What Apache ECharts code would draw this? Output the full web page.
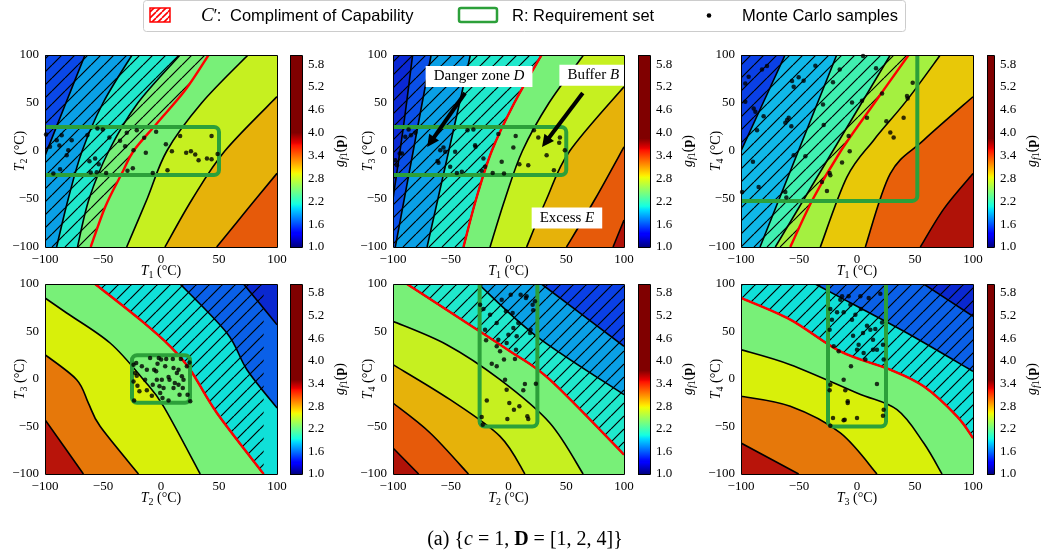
<!DOCTYPE html>
<html>
<head>
<meta charset="utf-8">
<script src="https://cdn.jsdelivr.net/npm/echarts@6/dist/echarts.min.js"></script>
<style>
  html, body { margin: 0; background: #fff; }
  #chart { width: 1042px; height: 556px; }
</style>
</head>
<body>
<div id="chart"></div>
<script>
const SERIF = 'Liberation Serif'
const SANS = 'Liberation Sans'
const GREEN = '#2ca03a'

// shared axes
const axisTicks = [-100, -50, 0, 50, 100]
const cbTicks = [1.0, 1.6, 2.2, 2.8, 3.4, 4.0, 4.6, 5.2, 5.8]
const cbRange = [1.0, 6.04]
const xVar = [1, 1, 1, 2, 2, 3]
const yVar = [2, 3, 4, 3, 4, 4]
const cbTop = [4.0, 3.85, 3.85, 3.5, 3.75, 3.5]

// panel 1 : T1 vs T2 (contours ordered low -> high, each drawn bottom -> top)
const p1Capability = [[-60.6, -100], [-48, -58], [-33.8, -23.5], [-23.7, 0], [-3.6, 28.7], [20.9, 63.5], [41, 100]]
const p1Contours = [
  [[-100, -5], [-82, 50], [-65.5, 100]],
  [[-90, -100], [-80, -50], [-68, 0], [-50, 50], [-25, 100]],
  [[-72, -100], [-62, -50], [-45, 0], [-20, 50], [16.5, 100]],
  [[-29.6, -100], [-12, -50], [5, 0], [35, 50], [75, 100]],
  [[3.4, -100], [27, -50], [55, 0], [100, 56.6]],
  [[48, -100], [75, -60], [100, -23.3]]
]
const p1Samples = [[-99.1, 17.2], [-95.7, 4.3], [-92.8, -23.5], [-89.9, 11.3], [-87.6, 5.7], [-85.6, 16.5], [-81.3, -4.3],
  [-79.9, 0.9], [-77, 11.3], [-87, -19], [-63.5, 16.5], [-61.7, -10.6], [-60.6, -22.4], [-56.8, -7.8], [-54.8, 23.5],
  [-53.7, -13.7], [-55.4, -22.1], [-50.2, 22.4], [-47.3, -22.8], [-44.5, 14.1], [-35.3, 10.6], [-30.9, 5], [-29.5, 19],
  [-28.9, -20.7], [-24.3, -17.9], [-23.7, 0.9], [-20.9, 21.7], [-14.5, 13.7], [-13.1, -1.9], [-7.1, -22.8], [-4.2, 20],
  [4.2, 7.1], [5.6, -20], [9.4, -0.2], [16.5, 15.5], [21.7, -1.9], [25.8, -0.2], [29.5, -3.7], [32.4, -9.6], [39.6, -7.8],
  [43.6, -8.5], [43.6, 15.5], [48.8, -3]]
const p1Req = [-130, 50, -25, 25]

// panel 2 : T1 vs T3
const p2Capability = [[-39, -100], [-28, -50], [-14.5, 0], [5, 50], [28.6, 100]]
const p2Contours = [
  [[-100, -50], [-91, 25], [-83, 100]],
  [[-98, -100], [-67, 100]],
  [[-70.5, -100], [-33, 100]],
  p2Capability,
  [[-16, -100], [-3, -50], [12, 0], [35, 50], [65, 100]],
  [[15.7, -100], [33, -50], [53, 0], [100, 67]],
  [[50.2, -100], [75, -50], [100, 4.3]],
  [[90.5, -100], [100, -72]]
]
const p2Samples = [[-98, -9.6], [-96.5, -14.8], [-94.2, -2.6], [-92.2, -2.6], [-89.4, 14.8], [-86.5, 22.4], [-84.5, 16.5],
  [-80.7, 19], [-66.3, 11.3], [-61.4, -10.3], [-60.6, -12.3], [-59.1, 0.9], [-56.3, 3.7], [-54.8, -0.9], [-50.5, -16.5],
  [-46.2, -0.9], [-44.7, -22.8], [-40.4, -21.7], [-35.5, 21.7], [-30.4, 22.4], [-28.9, 6.1], [-28.6, 4.3], [-23.2, -20.7],
  [-21.7, -7.8], [-20.3, -16.5], [-13.7, -22.8], [-8.8, 17.6], [-5.9, -11.3], [-3.9, -23.5], [4.2, 3.7], [6.2, 15.5],
  [9.4, -13.7], [17.1, -14.8], [22, 21.7], [25.8, 14.1], [33, -4.3], [39.3, -20], [43.9, 8.5], [48.8, 0.9], [44.5, 14.1]]
const p2Req = [-130, 50, -25, 25]
const p2NoteText = ['Danger zone {i|D}', 'Buffer {i|B}', 'Excess {i|E}']
const p2NoteAt = [[-25.5, 77.6], [73.4, 79], [50.6, -69.8]]
const p2Arrows = [[-37.6, 60.4, -70.4, 4.2], [64.3, 60.4, 29, 4.2]]

// panel 3 : T1 vs T4
const p3Capability = [[-57.5, -100], [-38, -50], [-14, 0], [15, 50], [44.5, 100]]
const p3Contours = [
  [[-100, 0], [-81, 50], [-62, 100]],
  [[-83.6, -100], [-17.5, 100]],
  [[-70.4, -100], [28.7, 100]],
  [[-31.6, -100], [-8.6, -27], [14.4, 11.3], [43.1, 53], [71.8, 100]],
  [[7.2, -100], [28.7, -23.5], [57.5, 11.3], [100, 56.5]],
  [[54.6, -100], [75, -60], [100, -23.5]]
]
const p3Samples = [[-96.3, 70.4], [-93.4, 77.4], [-96.3, 51.3], [-89.1, 44.3], [-87.6, 40.9], [-89.7, -11.3], [-86.2, 21.7],
  [-84.8, -37.4], [-81.9, 85], [-77.6, 88.5], [-80.5, 36.3], [-99.1, -42.6], [-61.8, 29.4], [-60.3, 32.2], [-58.9, 34.6],
  [-61.8, -42.6], [-60.9, -48.5], [-56, 72.9], [-56.6, 25.9], [-54.6, 67], [-54.6, -4.3], [-50.3, 76.7], [-46, 73.2],
  [-44.5, -5.4], [-35.9, 88.9], [-29.3, 48.5], [-28.7, 27], [-30.2, -32.2], [-25.9, -41.6], [-23.6, -22.8], [-23, -25.2],
  [-20.7, 71.5], [-14.9, 85], [-12.9, -12], [-7.2, 15.5], [-6.3, -0.2], [-4.3, 50.6], [4.3, 52.3], [5.2, 99], [8.6, 34.6],
  [16.4, 86.1], [21.6, 60], [25.3, 31.1], [28.7, 19.3], [31.6, 14.1], [40.2, 34.6], [43.1, 57.2], [43.7, 54.8], [48, 71.1]]
const p3Req = [-130, 52, -52, 130]

// panel 4 : T2 vs T3 (contours drawn left -> right)
const p4Capability = [[-56.8, 100], [-18, 62.5], [7.9, 34.4], [25.2, 9.8], [48.2, -35.8], [88.5, -100]]
const p4Contours = [
  [[71.2, 100], [100, 57.2]],
  [[16.5, 100], [56.8, 48.4], [74.1, 9.8], [100, -30.5]],
  p4Capability,
  [[-100, 85.3], [-81.3, 69.5], [-43.9, 37.9], [-15.1, -0.7], [2.2, -28.8], [33.8, -100]],
  [[-100, 25.6], [-72.7, -0.7], [-62.6, -25.3], [-52.5, -49.8], [-19.4, -100]],
  [[-100, -42.8], [-66.9, -100]]
]
const p4Samples = [[-23.7, 15.1], [-21.4, 16.8], [-22.3, 6.3], [-20.9, 3.5], [-23.7, -2.5], [-23.2, -22.5], [-20.3, -7],
  [-18.6, -13], [-13.7, -0.7], [-12.2, -11.9], [-9.4, 22.1], [-7.9, -17.5], [-5.9, 9.8], [-4.2, 8.1], [-3.6, -0.7],
  [-1.3, -7.7], [-1.9, 22.1], [0.1, 20.4], [0.7, -0.7], [-0.7, -14.7], [1.3, -20], [3.6, 13.3], [4.5, 21.1], [6.5, 2.1],
  [7.3, -0.7], [6.5, -22.5], [10.2, 21.1], [10.8, -9.5], [11.9, -4.2], [13.7, 6.3], [15.1, 9.8], [16, -16.5], [17.1, 21.1],
  [18, 2.8], [18.8, -9.5], [19.4, -0.7], [22.3, 13.3], [22.9, -16.5], [25.2, -23.5], [10.8, 11.6], [-12.2, 9.8],
  [-7.1, -6], [2.2, -9.5], [15.1, -6], [-16.5, 13.3], [-3, 16.1], [24.6, 17.5]]
const p4Req = [-25, 25, -25, 25]

// panel 5 : T2 vs T4
const p5Capability = [[-87.9, 100], [-36.1, 59], [1.3, 29.1], [35.8, -0.7], [100, -79.6]]
const p5Contours = [
  [[28.6, 100], [100, 34.4]],
  [[-26, 100], [24.3, 44.9], [100, -16.5]],
  p5Capability,
  [[-100, 60.7], [-53.4, 36.1], [-7.3, -0.7], [35.8, -46.3], [64.6, -100]],
  [[-100, 15.1], [-50.5, -21.8], [-7.3, -60.4], [14.2, -100]],
  [[-100, -25.3], [-67.8, -56.8], [-34.7, -100]],
  [[-100, -72.6], [-77.8, -100]]
]
const p5Samples = [[-24.6, 78.2], [-21.7, 73.7], [-20.3, 51.9], [-19.4, 40.7], [-23.2, -40], [-22.3, -48.1], [-18.8, -22.5],
  [-16, 67.7], [-14.5, 16.1], [-10.2, 58.9], [-10.2, 13.3], [-8.8, 41.4], [-5.9, 83.5], [-10.2, 34.4], [-7.3, 29.1],
  [-3.9, 20.4], [-3, -0.7], [-1.6, 37.9], [-2.2, 71.2], [-1, -42.1], [-1.6, -11.2], [0.7, -25.3], [1.9, 88.8], [3.6, 69.5],
  [4.2, 53.7], [4.7, -32.3], [5.6, 21.1], [6.5, 30.9], [7.1, 44.9], [8.5, 58.9], [10.5, 88.8], [12.8, -11.9], [14.2, -5.3],
  [15.1, 85.3], [15.7, 87], [18.6, 48.4], [19.1, 51.9], [20.9, 78.2], [21.4, 72.3], [22.9, 81.8], [23.7, -4.9],
  [16.3, -39.3], [17.1, -42.1], [9.4, -28.8], [-0.1, 46.7]]
const p5Req = [-25, 25, -50, 130]

// panel 6 : T3 vs T4
const p6Capability = [[-100, 85.3], [-57.5, 62.5], [-14.4, 29.1], [28.7, 9.8], [57.5, -7.7], [86.2, -39.3], [100, -62.1]]
const p6Contours = [
  [[57.5, 100], [100, 66]],
  [[-36, 100], [0, 76.5], [43.1, 48.4], [100, 8.1]],
  p6Capability,
  [[-100, 30.9], [-57.5, 15.1], [0, -14.7], [34.5, -32.3], [57.5, -67.4], [73.3, -100]],
  [[-100, -18.2], [-57.5, -28.8], [-14.4, -56.8], [17.2, -100]],
  [[-100, -67.4], [-50.3, -100]]
]
const p6Samples = [[-23, 73.7], [-21.6, 62.5], [-23.6, 51.9], [-20.1, 34.4], [-17.2, 70.2], [-15.8, 29.1], [-14.4, 83.5],
  [-12.9, 87], [-11.5, 70.2], [-7.2, 87], [-5.7, 78.2], [-4.3, 62.5], [-3.4, 45.6], [-1.4, 67.7], [0, 30.9], [1.4, 36.1],
  [2.9, 87], [3.4, 73.7], [5.2, 48.4], [5.7, 27.4], [7.2, 20.4], [8.6, 56.1], [10.1, 85.3], [11.5, 51.9], [13.8, 41.4],
  [15.8, 52.6], [17.2, 30.9], [20.1, 89.8], [21.6, 59.6], [22.4, 36.1], [23, 20.4], [-5.2, 13.3], [-23, -6], [-23.6, -11.9],
  [-11.5, -0.7], [-10.1, -11.9], [-8, -23.5], [-8, -25.3], [-20.7, -41], [-23, -49.1], [-11.5, -43.5], [-10.6, -42.8],
  [0, -41], [17.2, -5.3], [23, -32.3], [22.4, -38.6], [13.8, 30.9]]
const p6Req = [-25, 25, -50, 130]

// band colours, low -> high
const p1Colors = ['#0a48e8', '#0aa0e6', '#20e8cc', '#78f078', '#c6f020', '#e6b20a', '#e65a0a']
const p2Colors = ['#0a28d4', '#0a50e8', '#0aa0e6', '#20e8cc', '#78f078', '#c6f020', '#e6b20a', '#e65a0a', '#b01208']
const p3Colors = ['#0a40e6', '#10b8e8', '#40f0b0', '#a4f040', '#e8c808', '#e8600a', '#b01208']
const p4Colors = ['#0a28d0', '#0a60e8', '#10e0d8', '#78f078', '#d8f00a', '#e6780a', '#b8140a']
const p5Colors = ['#0a40e6', '#0aa0e6', '#20e8cc', '#78f078', '#c6f020', '#e6b20a', '#e65a0a', '#b01208']
const p6Colors = ['#0a28d0', '#0a60e8', '#10e0d8', '#78f078', '#d8f00a', '#e6780a', '#b8140a']

const jetStops = [[0, '#000080'], [0.11, '#0000ff'], [0.125, '#0000ff'], [0.34, '#00dbff'], [0.375, '#14ffe2'],
  [0.64, '#eeff08'], [0.66, '#ffec00'], [0.89, '#ff1300'], [0.91, '#e80000'], [1, '#800000']]

const panels = [
  { lines: p1Contours, cap: p1Capability, samples: p1Samples, req: p1Req, colors: p1Colors, orient: 'top' },
  { lines: p2Contours, cap: p2Capability, samples: p2Samples, req: p2Req, colors: p2Colors, orient: 'top' },
  { lines: p3Contours, cap: p3Capability, samples: p3Samples, req: p3Req, colors: p3Colors, orient: 'top' },
  { lines: p4Contours, cap: p4Capability, samples: p4Samples, req: p4Req, colors: p4Colors, orient: 'bottom' },
  { lines: p5Contours, cap: p5Capability, samples: p5Samples, req: p5Req, colors: p5Colors, orient: 'bottom' },
  { lines: p6Contours, cap: p6Capability, samples: p6Samples, req: p6Req, colors: p6Colors, orient: 'bottom' }
]

// layout boxes [left, top, width, height]
const mainBoxes = [[45, 55, 232, 192], [393, 55, 231, 192], [741, 55, 232, 192],
  [45, 284, 232, 190], [393, 284, 231, 190], [741, 284, 232, 190]]
const cbBoxes = [[290, 55, 12, 192], [638, 55, 12, 192], [987, 55, 12, 192],
  [290, 284, 12, 190], [638, 284, 12, 190], [987, 284, 12, 190]]

function makeHatch(color, size, lw, bg) {
  const c = document.createElement('canvas')
  c.width = c.height = size
  const ctx = c.getContext('2d')
  if (bg) { ctx.fillStyle = bg; ctx.fillRect(0, 0, size, size) }
  ctx.strokeStyle = color
  ctx.lineWidth = lw
  ctx.beginPath()
  for (let k = -1; k <= 1; k++) {
    ctx.moveTo(k * size, size)
    ctx.lineTo(k * size + size, 0)
  }
  ctx.stroke()
  return { type: 'pattern', image: c, repeat: 'repeat' }
}
const hatchFill = makeHatch('#000', 13, 1.2)
const legendHatch = makeHatch('#ff0000', 6, 1.6, '#fff')

// closing corners for the high-value side of a contour line
function highClose(line, orient) {
  const f = line[0], l = line[line.length - 1]
  if (orient === 'top') return [[400, l[1]], [400, -400], [f[0], -400]]
  return [[l[0], -400], [-400, -400], [-400, f[1]]]
}
// closing corners for the low-value side (hatched complement of capability)
function lowClose(line, orient) {
  const f = line[0], l = line[line.length - 1]
  if (orient === 'top') return [[-400, l[1]], [-400, f[1]]]
  return [[l[0], 400], [f[0], 400]]
}

// svg path through the pixel points as a smooth curve, optionally closed with straight corners
function curvePath(api, line, close) {
  const p = line.map(q => api.coord(q))
  const f = v => v.toFixed(2)
  let d = 'M' + f(p[0][0]) + ',' + f(p[0][1])
  for (let i = 0; i < p.length - 1; i++) {
    const p0 = p[i - 1] || p[i], p1 = p[i], p2 = p[i + 1], p3 = p[i + 2] || p[i + 1]
    const c1 = [p1[0] + (p2[0] - p0[0]) / 6, p1[1] + (p2[1] - p0[1]) / 6]
    const c2 = [p2[0] - (p3[0] - p1[0]) / 6, p2[1] - (p3[1] - p1[1]) / 6]
    d += 'C' + f(c1[0]) + ',' + f(c1[1]) + ' ' + f(c2[0]) + ',' + f(c2[1]) + ' ' + f(p2[0]) + ',' + f(p2[1])
  }
  if (close) {
    close.forEach(q => { const c = api.coord(q); d += 'L' + f(c[0]) + ',' + f(c[1]) })
    d += 'Z'
  }
  return d
}

const rich = {
  i: { fontFamily: SERIF, fontStyle: 'italic', fontSize: 14, lineHeight: 18 },
  n: { fontFamily: SERIF, fontSize: 14, lineHeight: 18 },
  b: { fontFamily: SERIF, fontWeight: 'bold', fontSize: 14, lineHeight: 18 },
  s: { fontFamily: SERIF, fontSize: 10, lineHeight: 10, verticalAlign: 'bottom' },
  si: { fontFamily: SERIF, fontStyle: 'italic', fontSize: 10, lineHeight: 10, verticalAlign: 'bottom' }
}
const tName = v => '{i|T}{s|' + v + '}{n| (°C)}'
const minus = v => (v < 0 ? '\u2212' + (-v) : String(v))
const tickLabel = { color: '#000', fontFamily: SERIF, fontSize: 13 }
const nameStyle = { color: '#000', fontFamily: SERIF, fontSize: 14, rich: rich }

const grid = [], xAxis = [], yAxis = [], series = []

panels.forEach((p, k) => {
  const b = mainBoxes[k]
  grid.push({ left: b[0], top: b[1], width: b[2], height: b[3] })
  xAxis.push({
    gridIndex: k, type: 'value', min: -100, max: 100, interval: 50,
    name: tName(xVar[k]), nameLocation: 'middle', nameGap: 15, nameMoveOverlap: false, nameTextStyle: nameStyle,
    axisLine: { show: false }, splitLine: { show: false },
    axisTick: { show: true, length: 4, lineStyle: { color: '#000' } },
    axisLabel: Object.assign({ margin: 6, formatter: minus, customValues: axisTicks }, tickLabel)
  })
  yAxis.push({
    gridIndex: k, type: 'value', min: -100, max: 100, interval: 50,
    name: tName(yVar[k]), nameLocation: 'middle', nameGap: 16, nameRotate: 90, nameMoveOverlap: false, nameTextStyle: nameStyle,
    axisLine: { show: false }, splitLine: { show: false },
    axisTick: { show: true, length: 4, lineStyle: { color: '#000' } },
    axisLabel: Object.assign({ margin: 6, formatter: minus, customValues: axisTicks }, tickLabel)
  })

  const base = { type: 'custom', xAxisIndex: k, yAxisIndex: k, silent: true, clip: true }
  series.push(Object.assign({}, base, {
    z: 1, data: p.colors.map((c, i) => [i, 0]),
    renderItem: (params, api) => {
      const i = params.dataIndex
      if (i === 0) {
        const a = api.coord([-100, 100]), c = api.coord([100, -100])
        return { type: 'rect', shape: { x: a[0], y: a[1], width: c[0] - a[0], height: c[1] - a[1] }, style: { fill: p.colors[0] } }
      }
      const line = p.lines[i - 1]
      return { type: 'path', shape: { pathData: curvePath(api, line, highClose(line, p.orient)) }, style: { fill: p.colors[i], stroke: 'none' } }
    }
  }))
  series.push(Object.assign({}, base, {
    z: 2, data: [[0, 0]],
    renderItem: (params, api) => ({
      type: 'path', shape: { pathData: curvePath(api, p.cap, lowClose(p.cap, p.orient)) },
      style: { fill: hatchFill, stroke: 'none' }
    })
  }))
  series.push(Object.assign({}, base, {
    z: 3, data: p.lines.map((l, i) => [i, 0]),
    renderItem: (params, api) => ({
      type: 'path', shape: { pathData: curvePath(api, p.lines[params.dataIndex]) },
      style: { stroke: '#000', lineWidth: 1.6, fill: 'none' }
    })
  }))
  series.push(Object.assign({}, base, {
    z: 4, data: [[0, 0]],
    renderItem: (params, api) => ({
      type: 'path', shape: { pathData: curvePath(api, p.cap) },
      style: { stroke: '#ff0000', lineWidth: 2.4, fill: 'none' }
    })
  }))
  series.push(Object.assign({}, base, {
    z: 5, data: [[0, 0]],
    renderItem: (params, api) => {
      const a = api.coord([p.req[0], p.req[3]]), c = api.coord([p.req[1], p.req[2]])
      return {
        type: 'rect', shape: { x: a[0], y: a[1], width: c[0] - a[0], height: c[1] - a[1], r: 5 },
        style: { fill: 'none', stroke: GREEN, lineWidth: 4 }
      }
    }
  }))
  series.push({
    type: 'scatter', xAxisIndex: k, yAxisIndex: k, z: 6, silent: true,
    symbolSize: 4.5, itemStyle: { color: '#000' }, data: p.samples
  })
  series.push({
    type: 'custom', xAxisIndex: k, yAxisIndex: k, silent: true, z: 9, data: [[0, 0]],
    renderItem: (params) => {
      const c = params.coordSys
      return {
        type: 'rect', shape: { x: Math.floor(c.x) + 0.5, y: Math.floor(c.y) + 0.5, width: Math.round(c.width), height: Math.round(c.height) },
        style: { fill: 'none', stroke: '#000', lineWidth: 1 }
      }
    }
  })
})

// colour bars
cbBoxes.forEach((b, k) => {
  const gi = 6 + k
  grid.push({ left: b[0], top: b[1], width: b[2], height: b[3] })
  xAxis.push({ gridIndex: gi, type: 'value', min: 0, max: 1, show: false })
  yAxis.push({
    gridIndex: gi, type: 'value', position: 'right', min: cbRange[0], max: cbRange[1],
    name: '{i|g}{si|f}{s|1}{n|(}{b|p}{n|)}', nameLocation: 'middle', nameGap: 29, nameRotate: 90,
    nameMoveOverlap: false, nameTextStyle: nameStyle,
    axisLine: { show: false }, splitLine: { show: false },
    axisTick: { show: true, length: 4, customValues: cbTicks, lineStyle: { color: '#000' } },
    axisLabel: Object.assign({ margin: 6, customValues: cbTicks, formatter: v => v.toFixed(1) }, tickLabel)
  })
  const span = cbRange[1] - cbRange[0]
  const stops = jetStops.map(s => ({ offset: s[0] * (cbTop[k] - cbRange[0]) / span, color: s[1] }))
  stops.push({ offset: 1, color: '#800000' })
  series.push({
    type: 'custom', xAxisIndex: gi, yAxisIndex: gi, silent: true, z: 1, data: [[0, cbRange[0]]],
    renderItem: (params, api) => {
      const a = api.coord([0, cbRange[1]]), c = api.coord([1, cbRange[0]])
      const cs = params.coordSys
      return {
        type: 'group', children: [
          { type: 'rect', shape: { x: a[0], y: a[1], width: c[0] - a[0], height: c[1] - a[1] },
            style: { fill: new echarts.graphic.LinearGradient(0, 1, 0, 0, stops) } },
          { type: 'rect', shape: { x: Math.floor(cs.x) + 0.5, y: Math.floor(cs.y) + 0.5, width: Math.round(cs.width), height: Math.round(cs.height) },
            style: { fill: 'none', stroke: '#000', lineWidth: 1 } }
        ]
      }
    }
  })
})

// annotations in panel 2
series.push({
  type: 'custom', xAxisIndex: 1, yAxisIndex: 1, silent: true, z: 7, data: p2Arrows,
  renderItem: (params, api) => {
    const a = api.coord([api.value(0), api.value(1)]), b = api.coord([api.value(2), api.value(3)])
    const dx = b[0] - a[0], dy = b[1] - a[1], L = Math.hypot(dx, dy)
    const ux = dx / L, uy = dy / L, hl = 12, hw = 6
    const m = [b[0] - ux * hl, b[1] - uy * hl]
    return {
      type: 'group', children: [
        { type: 'line', shape: { x1: a[0], y1: a[1], x2: m[0] + ux * 2, y2: m[1] + uy * 2 }, style: { stroke: '#000', lineWidth: 4 } },
        { type: 'polygon', shape: { points: [b, [m[0] - uy * hw, m[1] + ux * hw], [m[0] + uy * hw, m[1] - ux * hw]] }, style: { fill: '#000' } }
      ]
    }
  }
})
series.push({
  type: 'custom', xAxisIndex: 1, yAxisIndex: 1, silent: true, z: 8, data: p2NoteAt,
  renderItem: (params, api) => {
    const c = api.coord([api.value(0), api.value(1)])
    return {
      type: 'text', x: c[0], y: c[1],
      style: {
        text: p2NoteText[params.dataIndex], fill: '#000', font: '15px ' + SERIF,
        align: 'center', verticalAlign: 'middle', backgroundColor: '#fff', padding: [3, 8],
        rich: { i: { fontFamily: SERIF, fontStyle: 'italic', fontSize: 15 } }
      }
    }
  }
})

const legendFont = '16.5px ' + SANS
const graphic = [
  { type: 'rect', shape: { x: 143.5, y: 0.5, width: 762, height: 31, r: 3 }, style: { fill: '#fff', stroke: '#cccccc', lineWidth: 1 } },
  { type: 'rect', shape: { x: 150, y: 8, width: 20, height: 14 }, style: { fill: legendHatch, stroke: '#ff0000', lineWidth: 1.5 } },
  { type: 'text', x: 201, y: 16, style: { text: '{i|C}\u2032:', font: legendFont, fill: '#000', verticalAlign: 'middle',
      rich: { i: { fontFamily: SERIF, fontStyle: 'italic', fontSize: 19 } } } },
  { type: 'text', x: 230, y: 16, style: { text: 'Compliment of Capability', font: legendFont, fill: '#000', verticalAlign: 'middle' } },
  { type: 'rect', shape: { x: 459, y: 8, width: 38, height: 14, r: 2 }, style: { fill: '#fff', stroke: GREEN, lineWidth: 2.5 } },
  { type: 'text', x: 512, y: 16, style: { text: 'R: Requirement set', font: legendFont, fill: '#000', verticalAlign: 'middle' } },
  { type: 'circle', shape: { cx: 709, cy: 15.5, r: 2.3 }, style: { fill: '#000' } },
  { type: 'text', x: 742, y: 16, style: { text: 'Monte Carlo samples', font: legendFont, fill: '#000', verticalAlign: 'middle' } },
  { type: 'text', x: 525, y: 540, style: {
      text: '(a) {{i|c} = 1, {b|D} = [1, 2, 4]}', font: '20px ' + SERIF, fill: '#000', align: 'center', verticalAlign: 'middle',
      rich: { i: { fontFamily: SERIF, fontStyle: 'italic', fontSize: 20 }, b: { fontFamily: SERIF, fontWeight: 'bold', fontSize: 20 } } } }
]

const chart = echarts.init(document.getElementById('chart'))
chart.setOption({ animation: false, backgroundColor: '#fff', grid, xAxis, yAxis, series, graphic })
</script>
</body>
</html>
